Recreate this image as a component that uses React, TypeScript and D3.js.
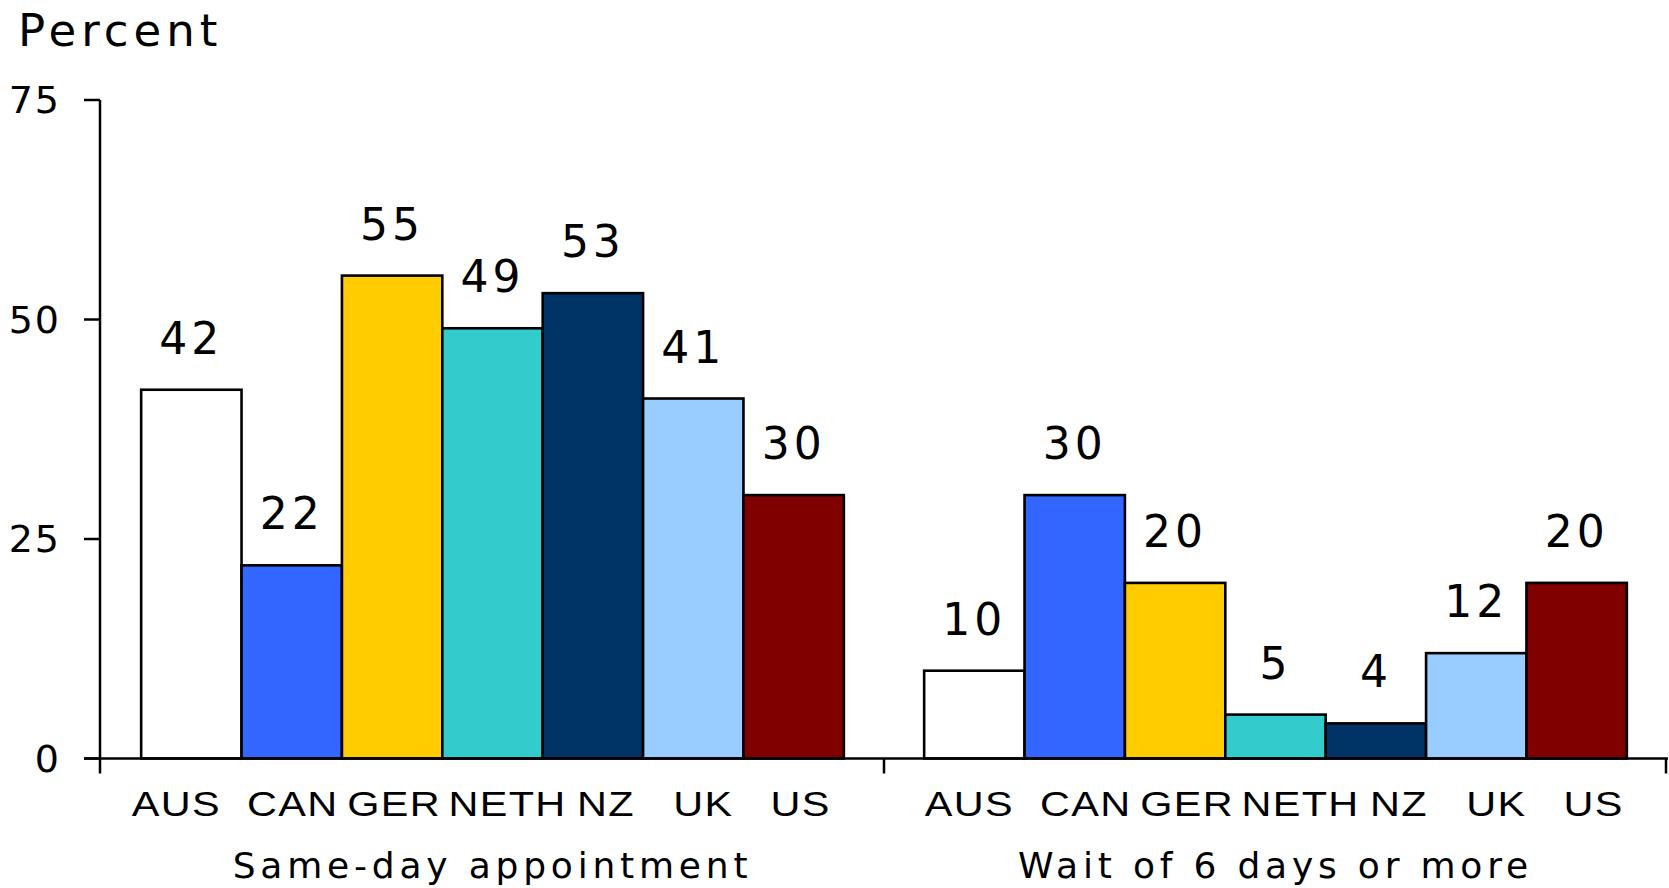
import React from "react";
import * as d3 from "d3";

// Countries shown in each panel, in bar order
const countries = ["AUS", "CAN", "GER", "NETH", "NZ", "UK", "US"];
// Panel titles
const groups = ["Same-day appointment", "Wait of 6 days or more"];
// Percent of respondents per country
const sameDay = [42, 22, 55, 49, 53, 41, 30];
const wait6Plus = [10, 30, 20, 5, 4, 12, 20];
// Y axis ticks
const yTicks = [0, 25, 50, 75];
// Fill per country
const countryColors = ["#FFFFFF", "#3366FF", "#FFCC00", "#33CCCC", "#003366", "#99CCFF", "#800000"];

const seriesByGroup = [sameDay, wait6Plus];

// Horizontal nudges for the country names under the bars, so wide names don't collide
const labelNudge: Record<string, number> = { AUS: -15, CAN: 1, GER: 2, NETH: 15, NZ: 13, UK: 10, US: 7 };
const groupLabelShift = [0, 10];

const W = 1669;
const H = 888;
const FONT = "'DejaVu Sans', Verdana, sans-serif";
const LABEL_FONT = "'Liberation Sans', Arial, sans-serif";

export default function App() {
  const axisX = 100;
  const y = d3.scaleLinear().domain([0, 75]).range([758.5, 100]);
  const outer = d3.scaleBand<string>().domain(groups).range([101, 1667]).paddingInner(0).paddingOuter(0);
  const inner = d3
    .scaleBand<string>()
    .domain(countries)
    .range([0, outer.bandwidth()])
    .paddingInner(0)
    .paddingOuter(0.4);
  const color = d3.scaleOrdinal<string, string>().domain(countries).range(countryColors);
  const y0 = y(0);

  return (
    <svg
      width={W}
      height={H}
      style={{ position: "absolute", left: 0, top: 0, background: "#fff" }}
      fontFamily={FONT}
    >
      <rect x={0} y={0} width={W} height={H} fill="#fff" />
      <text x={18} y={46} fontSize={45} letterSpacing={5} fill="#000">
        Percent
      </text>

      {/* y axis */}
      <line x1={axisX} x2={axisX} y1={y(75)} y2={y0 + 15} stroke="#000" strokeWidth={2.5} />
      {yTicks.map((t) => (
        <g key={t}>
          <line x1={axisX - 16} x2={axisX} y1={y(t)} y2={y(t)} stroke="#000" strokeWidth={2.5} />
          <text x={61} y={y(t) + 13} fontSize={38} letterSpacing={2} textAnchor="end" fill="#000">
            {t}
          </text>
        </g>
      ))}

      {/* panels */}
      {groups.map((g, gi) => {
        const gx = outer(g)!;
        const vals = seriesByGroup[gi];
        return (
          <g key={g}>
            {countries.map((c, i) => {
              const x = gx + inner(c)!;
              const v = vals[i];
              const cx = x + inner.bandwidth() / 2;
              const lx = cx + labelNudge[c] + groupLabelShift[gi];
              return (
                <g key={c}>
                  <rect
                    x={x}
                    y={y(v)}
                    width={inner.bandwidth()}
                    height={y0 - y(v)}
                    fill={color(c)}
                    stroke="#000"
                    strokeWidth={2.6}
                  />
                  <text x={cx} y={y(v) - 36} fontSize={44} letterSpacing={4} textAnchor="middle" fill="#000">
                    {v}
                  </text>
                  <g transform={`translate(${lx},816) scale(1.15,1)`}>
                    <text
                      x={0}
                      y={0}
                      fontFamily={LABEL_FONT}
                      fontSize={36}
                      letterSpacing={1.2}
                      textAnchor="middle"
                      fill="#000"
                    >
                      {c}
                    </text>
                  </g>
                </g>
              );
            })}
            <text
              x={gx + outer.bandwidth() / 2}
              y={878}
              fontSize={36}
              letterSpacing={4.8}
              textAnchor="middle"
              fill="#000"
            >
              {g}
            </text>
          </g>
        );
      })}

      {/* baseline and panel separators */}
      <line x1={axisX - 16} x2={W - 1} y1={y0} y2={y0} stroke="#000" strokeWidth={2.5} />
      {[outer(groups[1])!, outer.range()[1] - 1].map((sx, i) => (
        <line key={i} x1={sx} x2={sx} y1={y0} y2={y0 + 15} stroke="#000" strokeWidth={2.5} />
      ))}
    </svg>
  );
}
